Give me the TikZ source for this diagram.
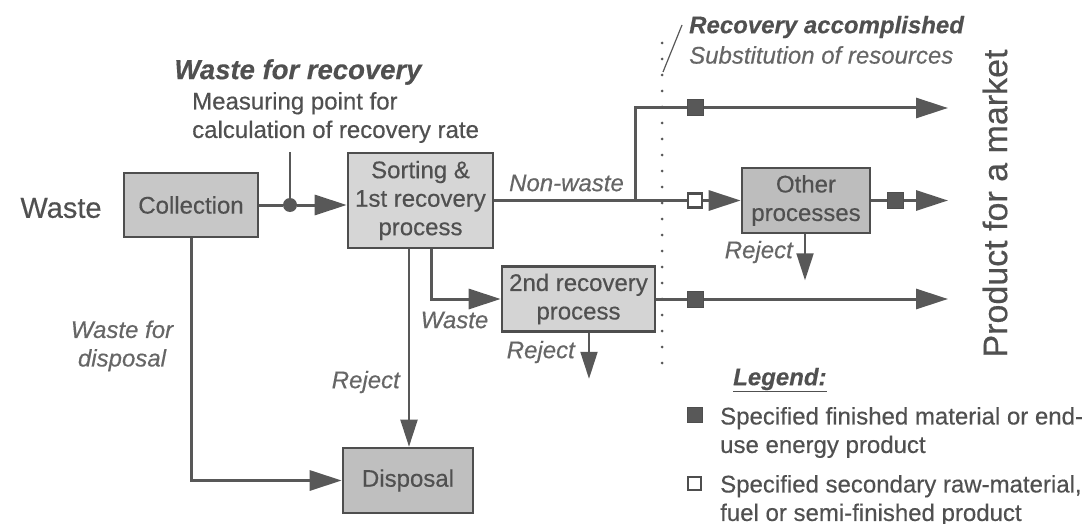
\documentclass[tikz,border=0pt]{standalone}
\usepackage{fontspec}
\setmainfont{Liberation Sans}[FakeBold=0.4]
\usetikzlibrary{arrows.meta,calc}
\definecolor{ink}{HTML}{505050}
\definecolor{soft}{HTML}{666666}
\definecolor{edge}{HTML}{4E4E4E}
\definecolor{flowc}{HTML}{585858}
\newcommand\fsz[1]{\fontsize{#1}{28.5}\selectfont}
\begin{document}
\begin{tikzpicture}[x=1pt,y=-1pt,
  box/.style={draw=edge, line width=2.6pt, inner sep=0pt, font=\fsz{24}, text=ink, align=center},
  plain/.style={draw=flowc, line width=3pt},
  flow/.style={plain, -{Triangle[length=32pt,width=20pt]}},
  thinflow/.style={draw=flowc, line width=2pt, -{Triangle[length=27pt,width=17pt]}},
  lbl/.style={inner sep=0pt, font=\fsz{24}\itshape, text=soft, align=center},
  txt/.style={inner sep=0pt, font=\fsz{24}, text=ink, align=left},
  fsq/.style={draw=edge, fill=flowc, line width=1pt, minimum size=16pt, inner sep=0pt},
  osq/.style={draw=edge, fill=white, line width=2.5pt, minimum size=14pt, inner sep=0pt}]
\useasboundingbox (0,0) rectangle (1089,524);

% process boxes
\node[box, fill=black!22, minimum width=134pt, minimum height=64pt] (coll) at (191,205) {Collection};
\node[box, fill=black!16, minimum width=145pt, minimum height=95pt] (sort) at (420.5,200.5) {Sorting \&\\1st recovery\\process};
\node[box, fill=black!17, minimum width=153pt, minimum height=65pt] (sec) at (578.5,299) {2nd recovery\\process};
\node[box, fill=black!26, minimum width=128pt, minimum height=65pt] (oth) at (806,200.5) {Other\\processes};
\node[box, fill=black!25, minimum width=130pt, minimum height=65pt] (disp) at (408,480.5) {Disposal};

% headings
\node[inner sep=0pt, font=\fsz{29}, text=ink] (waste) at (61,208) {Waste};
\node[inner sep=0pt, font=\fsz{27.5}\bfseries\itshape, text=ink] (wfr) at (298,72) {Waste for recovery};
\node[txt, anchor=west] (meas) at (192,117.5) {Measuring point for\\calculation of recovery rate};
\node[inner sep=0pt, anchor=west, font=\fsz{24}\bfseries\itshape, text=ink] (racc) at (689,27) {Recovery accomplished};
\node[lbl, anchor=west] (subst) at (689,55) {Substitution of resources};
\node[inner sep=0pt, font=\fsz{34}, text=ink, rotate=90] (prod) at (995,203.5) {Product for a market};

% boundary of accomplished recovery
\coordinate (dtop) at (662,43);
\coordinate (dbot) at (662,363);
\draw[draw=flowc, line width=3pt, line cap=round, dash pattern=on 0pt off 16pt] (dtop) -- (dbot);
\coordinate (s1) at (663,72);
\coordinate (s2) at (682,25);
\draw[draw=flowc, line width=1.2pt] (s1) -- (s2);

% collection to first recovery with measuring point
\node[circle, fill=flowc, inner sep=0pt, minimum size=14pt] (mp) at (290,205) {};
\coordinate (mtop) at (290,152);
\draw[draw=flowc, line width=1.5pt] (mtop) -- (mp);
\draw[plain] (coll.east) -- (mp);
\draw[flow] (mp) -- (sort.west |- mp);

% non-waste branch
\coordinate (br) at (635,200.5);
\node[osq] (o1) at (695,200.5) {};
\draw[plain] (sort.east) -- (o1.west);
\draw[flow] (o1.east) -- (oth.west);
\node[lbl] (nw) at (566.5,183) {Non-waste};

\node[fsq] (q1) at (695,108) {};
\coordinate (e1) at (948,108);
\draw[plain] (br) |- (q1.west);
\draw[flow] (q1.east) -- (e1);

\node[fsq] (q3) at (895,200.5) {};
\coordinate (e3) at (948,200.5);
\draw[plain] (oth.east) -- (q3.west);
\draw[flow] (q3.east) -- (e3);

% waste to second recovery
\coordinate (w1) at ($(sort.south)+(10.5,0)$);
\draw[flow] (w1) |- (sec.west);
\node[lbl] (wl) at (454.5,320) {Waste};

\node[fsq] (q2) at (695,299) {};
\coordinate (e2) at (948,299);
\draw[plain] (sec.east) -- (q2.west);
\draw[flow] (q2.east) -- (e2);

% rejects
\coordinate (r1) at ($(sort.south)+(-11.5,0)$);
\draw[thinflow] (r1) -- (r1 |- disp.north);
\node[lbl, anchor=east] (rj1) at (400,382) {Reject};

\coordinate (r2) at ($(sec.south)+(10.5,0)$);
\coordinate (r2e) at ($(r2)+(0,46)$);
\draw[thinflow] (r2) -- (r2e);
\node[lbl, anchor=east] (rj2) at (575,352) {Reject};

\coordinate (r3) at ($(oth.south)+(-1,0)$);
\coordinate (r3e) at ($(r3)+(0,46)$);
\draw[thinflow] (r3) -- (r3e);
\node[lbl, anchor=east] (rj3) at (793,252) {Reject};

% waste for disposal
\draw[flow] (coll.south) |- (disp.west);
\node[lbl] (wfd) at (122,346) {Waste for\\disposal};

% legend
\node[inner sep=0pt, anchor=west, font=\fsz{24}\bfseries\itshape, text=ink] (leg) at (733,380) {\underline{Legend:}};
\node[fsq, minimum size=15pt] (lq1) at (694.5,415) {};
\node[txt, anchor=west] (lt1) at (720,432.5) {Specified finished material or end-\\use energy product};
\node[osq, minimum size=13pt, line width=2pt] (lq2) at (694.5,483.5) {};
\node[txt, anchor=west] (lt2) at (720,500.5) {Specified secondary raw-material,\\fuel or semi-finished product};
\end{tikzpicture}
\end{document}
